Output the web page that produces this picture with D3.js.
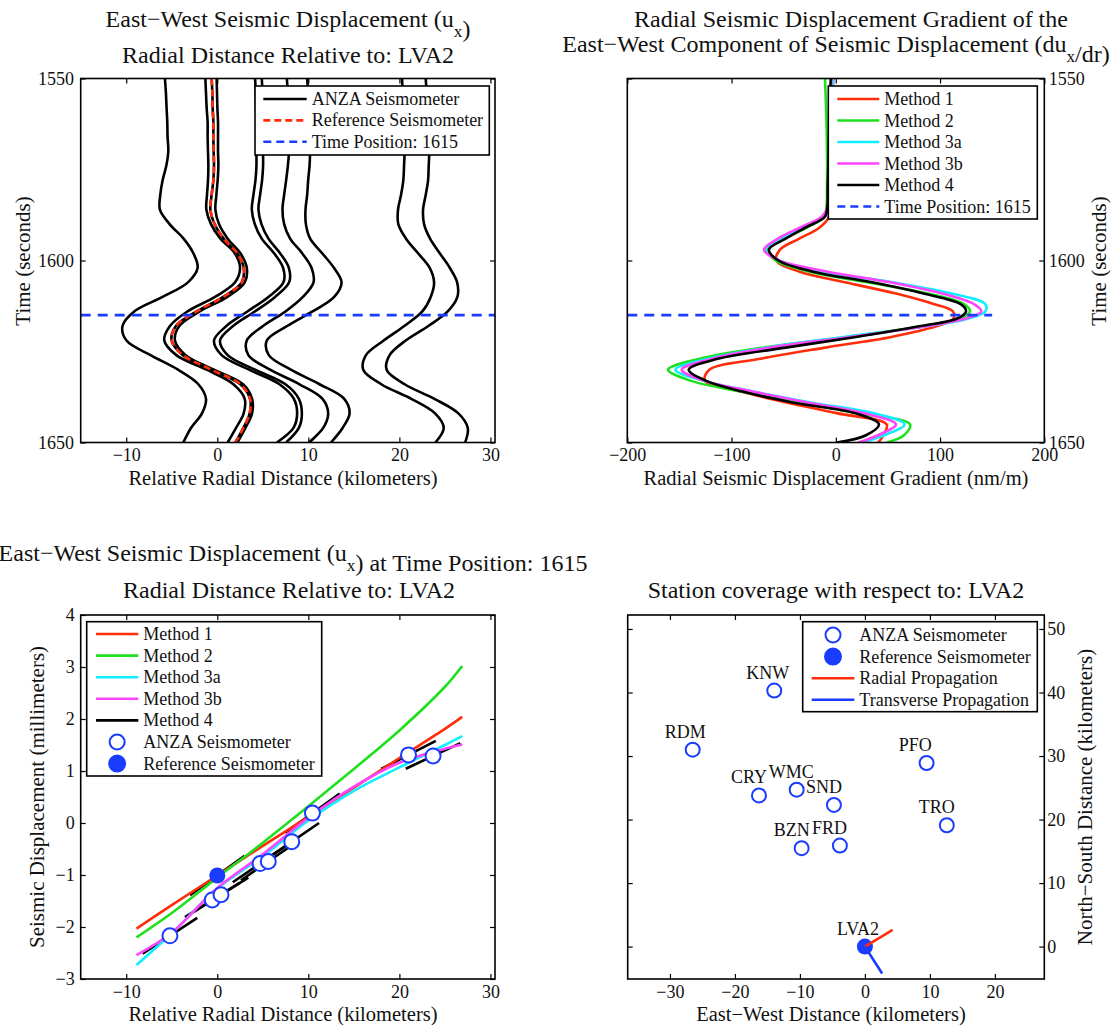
<!DOCTYPE html>
<html lang="en">
<head>
<meta charset="UTF-8">
<title>Seismic Displacement relative to LVA2</title>
<script src="https://cdn.jsdelivr.net/npm/d3@7"></script>
<style>
  body { margin: 0; background: #fff; }
  text { font-family: "Liberation Serif", "Times New Roman", serif; fill: #111; }
  .frame { fill: none; stroke: #000; stroke-width: 1.6px; }
  .trace { fill: none; stroke: #000; stroke-width: 2.6px; }
  .curve { fill: none; stroke-width: 2.6px; }
  .legend-box { fill: #fff; stroke: #000; stroke-width: 1.6px; }
</style>
</head>
<body>
<div id="chart"></div>
<script>
// ---------- data ----------
// top left: seismograms plotted at radial distance (km) vs time (s)
const traceTimes = [1550, 1554, 1558, 1562, 1566, 1570, 1574, 1578, 1582, 1586, 1590, 1594, 1598,
                    1602, 1606, 1610, 1614, 1618, 1622, 1626, 1630, 1634, 1638, 1642, 1646, 1650];
const trace1 = [-5.75, -5.64, -5.57, -5.49, -5.46, -5.38, -5.6, -6.01, -6.26, -6.3, -5.24, -3.7, -2.63, -2.16, -3.22, -6.01, -9.12, -10.41, -9.97, -7.33, -4.32, -2.08, -1.24, -1.68, -2.89, -3.73];
const trace2 = [-1.31, -1.24, -1.17, -1.06, -1.06, -1.02, -0.98, -1.02, -1.13, -1.2, -0.69, 0.34, 1.92, 2.5, 1.95, -0.25, -3.29, -5.2, -5.82, -4.5, -1.17, 1.77, 3.01, 2.9, 2.06, 1.14];
const trace3 = [-0.07, -0.03, 0.01, 0.08, 0.08, 0.08, 0.12, 0.04, -0.1, -0.21, 0.19, 1.14, 2.54, 3.24, 3.02, 1.11, -1.94, -4.17, -4.65, -3.48, -0.36, 2.83, 3.82, 3.82, 3.09, 2.21];
const trace4 = [4.15, 4.23, 4.26, 4.34, 4.34, 4.3, 4.3, 4.19, 3.97, 3.79, 4.12, 4.88, 6.24, 7.23, 7.27, 5.62, 3.31, 1.0, -0.36, 0.48, 3.49, 6.83, 8.41, 8.77, 8.37, 6.54];
const trace5 = [4.89, 4.96, 5.0, 5.07, 5.07, 5.03, 5.03, 4.92, 4.7, 4.52, 4.85, 5.62, 6.9, 7.86, 7.89, 6.35, 4.12, 1.73, 0.3, 1.14, 4.15, 7.49, 8.96, 9.29, 8.96, 7.56];
const trace6 = [7.64, 7.75, 7.82, 7.89, 7.97, 7.89, 7.75, 7.56, 7.34, 7.16, 7.34, 8.0, 9.32, 10.35, 10.57, 9.4, 7.49, 5.03, 3.24, 3.42, 5.8, 9.03, 11.56, 12.18, 11.63, 10.06];
const trace7 = [9.87, 9.98, 10.09, 10.2, 10.24, 10.2, 10.13, 9.98, 9.87, 9.69, 9.73, 10.2, 11.52, 12.81, 13.65, 12.84, 10.46, 7.67, 5.44, 5.66, 8.08, 11.23, 13.94, 14.53, 13.76, 12.48];
const trace8 = [20.29, 20.36, 20.47, 20.54, 20.62, 20.58, 20.51, 20.43, 20.18, 19.85, 19.88, 20.73, 22.05, 23.33, 23.81, 23.44, 22.52, 20.54, 18.27, 16.33, 16.03, 18.01, 21.31, 23.92, 24.87, 23.95];
const trace9 = [22.89, 23.0, 23.11, 23.22, 23.29, 23.29, 23.22, 23.15, 22.89, 22.6, 22.71, 23.37, 24.43, 25.53, 26.34, 26.37, 25.31, 23.18, 20.69, 18.93, 18.6, 20.58, 23.84, 26.48, 27.51, 27.22];
const refTrace = [-0.62, -0.54, -0.51, -0.43, -0.43, -0.4, -0.36, -0.43, -0.62, -0.76, -0.29, 0.7, 2.17, 2.9, 2.68, 0.67, -2.27, -4.54, -5.02, -3.77, -0.65, 2.54, 3.6, 3.56, 2.87, 1.99];
const anzaTraces = [trace1, trace2, trace3, trace4, trace5, trace6, trace7, trace8, trace9];
const timePosition = 1615;

// top right: radial gradient (nm/m) vs time for each method
const gradTimes = [1550, 1560, 1570, 1580, 1585, 1588, 1591, 1594, 1597, 1600, 1603, 1606, 1609, 1612,
                   1614, 1616, 1618, 1621, 1624, 1627, 1630, 1633, 1636, 1639, 1642, 1645, 1648, 1650];
const gradMethod1 = [-2.4, -3.6, -4.9, -5.9, -6.2, -6.5, -15.8, -35.0, -53.5, -57.0, -35.3, 8.8, 56.8, 94.5, 112.4, 112.7, 97.0, 53.2, -11.6, -72.4, -121.3, -125.5, -91.0, -47.2, 1.8, 48.8, 45.6, 40.8];
const gradMethod2 = [-10.4, -9.1, -8.4, -8.4, -8.8, -11.0, -28.3, -49.4, -65.3, -57.7, -26.0, 30.2, 87.1, 123.0, 128.7, 118.2, 84.6, 10.4, -71.4, -130.5, -160.9, -139.5, -90.9, -35.3, 21.6, 71.2, 65.4, 48.7];
const gradMethod3a = [-2.4, -4.3, -5.6, -6.5, -7.2, -11.0, -32.1, -52.3, -67.6, -54.2, -13.9, 54.2, 110.2, 143.4, 143.4, 126.5, 89.4, 7.9, -67.3, -122.6, -153.9, -127.3, -79.1, -24.1, 36.9, 66.0, 46.2, 24.8];
const gradMethod3b = [-4.0, -5.2, -5.9, -6.8, -7.5, -13.6, -34.7, -55.5, -68.9, -54.2, -8.8, 52.6, 101.5, 132.6, 139.6, 123.6, 87.8, 13.6, -64.1, -118.7, -147.8, -126.4, -80.0, -27.6, 27.7, 57.7, 40.5, 21.6];
const gradMethod4 = [-4.9, -5.9, -6.8, -7.8, -8.1, -10.4, -29.5, -48.1, -64.1, -55.1, -22.8, 35.0, 83.0, 119.8, 124.9, 115.9, 81.4, 19.4, -49.7, -113.2, -141.1, -124.8, -89.6, -41.4, 19.4, 41.4, 29.0, 0.8];
const gradTimeLine = [-200, 150];

// bottom left: displacement (mm) at time position vs radial distance (km)
const methodKm = [-8.87, -5, 0, 5, 10, 15, 20, 25, 26.9];
const dispMethod1 = [-2.03, -1.58, -1.01, -0.44, 0.12, 0.68, 1.25, 1.81, 2.04];
const dispMethod2 = [-2.2, -1.73, -1.05, -0.38, 0.32, 1.04, 1.78, 2.62, 3.02];
const dispMethod3a = [-2.73, -2.12, -1.26, -0.64, 0.05, 0.62, 1.07, 1.5, 1.67];
const dispMethod3b = [-2.54, -2.11, -1.25, -0.6, 0.1, 0.7, 1.16, 1.43, 1.51];
const anzaKm = [-5.2, -0.55, 0.41, 4.7, 5.6, 8.18, 10.45, 21.0, 23.7];
const anzaDisp = [-2.17, -1.48, -1.38, -0.78, -0.74, -0.36, 0.19, 1.31, 1.29];
const anzaGrad = [0.115, 0.11, 0.11, 0.12, 0.12, 0.12, 0.126, 0.09, 0.082]; // method 4 local slope, mm/km
const refKm = 0, refDisp = -1.01, refGrad = 0.126;
const tangentHalf = 3;

// bottom right: station map (km east, km north of LVA2)
const stationNames = ["KNW", "RDM", "CRY", "WMC", "SND", "PFO", "TRO", "BZN", "FRD"];
const stationEW = [-13.95, -26.5, -16.3, -10.5, -4.77, 9.49, 12.6, -9.74, -3.85];
const stationNS = [40.3, 31.0, 23.8, 24.7, 22.3, 28.9, 19.1, 15.5, 15.9];
const refName = "LVA2", refEW = 0, refNS = 0;
const radialEnd = [4.26, 2.63];
const transverseEnd = [2.65, -4.24];
const labelShift = [-4.3, 1.9];

// ---------- styling ----------
const RED = "#ff2d0a", GREEN = "#1ee01e", CYAN = "#12eeff", MAGENTA = "#ff44ff", BLUE = "#1a3cff";
const FONT = "'Liberation Serif', 'Times New Roman', serif";

const svg = d3.select("#chart").append("svg").attr("width", 1117).attr("height", 1025);

const xTop = d3.scaleLinear().domain([-15, 30.5]).range([80.7, 495]);
const yTime = d3.scaleLinear().domain([1550, 1650]).range([78.5, 442.5]);
const xGrad = d3.scaleLinear().domain([-200, 200]).range([627.3, 1044.3]);
const xBot = d3.scaleLinear().domain([-15, 30.5]).range([80.7, 495]);
const yDisp = d3.scaleLinear().domain([-3, 4]).range([979, 615]);
const xEW = d3.scaleLinear().domain([-36.5, 27.6]).range([627.7, 1044.3]);
const yNS = d3.scaleLinear().domain([-5.1, 52.2]).range([979, 615]);

function clipFor(id, x, y) {
  const [l, r] = d3.extent(x.range()), [t, b] = d3.extent(y.range());
  svg.append("clipPath").attr("id", id).append("rect")
    .attr("x", l).attr("y", t).attr("width", r - l).attr("height", b - t);
  return svg.append("g").attr("clip-path", `url(#${id})`);
}

function drawAxes(x, y, xTicks, yTicks, yRight, padY) {
  const [l, r] = d3.extent(x.range()), [t, b] = d3.extent(y.range());
  const g = svg.append("g");
  const fmt = d3.format("d");
  g.append("g").attr("transform", `translate(0,${b})`)
    .call(d3.axisBottom(x).tickValues(xTicks).tickSize(-5).tickPadding(6).tickFormat(fmt));
  g.append("g").attr("transform", `translate(0,${t})`)
    .call(d3.axisTop(x).tickValues(xTicks).tickSize(-5).tickFormat(""));
  g.append("g").attr("transform", `translate(${l},0)`)
    .call(d3.axisLeft(y).tickValues(yTicks).tickSize(-5).tickPadding(padY).tickFormat(yRight ? "" : fmt));
  g.append("g").attr("transform", `translate(${r},0)`)
    .call(d3.axisRight(y).tickValues(yTicks).tickSize(-5).tickPadding(padY).tickFormat(yRight ? fmt : ""));
  g.selectAll(".domain").remove();
  g.selectAll("g").attr("font-family", FONT).attr("font-size", 18);
  g.selectAll(".tick line").attr("stroke-width", 1.2);
  g.append("rect").attr("class", "frame")
    .attr("x", l).attr("y", t).attr("width", r - l).attr("height", b - t);
}

function label(x, y, txt, size, rotate) {
  const t = svg.append("text").attr("text-anchor", "middle").attr("font-size", size).text(txt);
  if (rotate) t.attr("transform", `translate(${x},${y}) rotate(-90)`);
  else t.attr("x", x).attr("y", y);
  return t;
}

function titleLine(x, y, parts, size) {
  const t = svg.append("text").attr("x", x).attr("y", y)
    .attr("text-anchor", "middle").attr("font-size", size);
  parts.forEach(p => {
    if (p.sub) {
      t.append("tspan").attr("dy", 10).attr("font-size", size * 0.72).text(p.text);
      t.append("tspan").attr("dy", -10).text("");
    } else {
      t.append("tspan").text(p.text);
    }
  });
}

function legend(box, rows, items) {
  const g = svg.append("g");
  g.append("rect").attr("class", "legend-box")
    .attr("x", box.x).attr("y", box.y).attr("width", box.w).attr("height", box.h);
  items.forEach((it, i) => {
    const cy = box.y + rows.first + i * rows.step;
    if (it.kind === "line") {
      g.append("line").attr("x1", box.x + rows.s0).attr("x2", box.x + rows.s1)
        .attr("y1", cy).attr("y2", cy).attr("stroke", it.color).attr("stroke-width", 2.6)
        .attr("stroke-dasharray", it.dash || null);
    } else {
      g.append("circle").attr("cx", box.x + (rows.s0 + rows.s1) / 2).attr("cy", cy)
        .attr("r", it.kind === "dot" ? 8 : 7.5)
        .attr("fill", it.kind === "dot" ? BLUE : "#fff")
        .attr("stroke", BLUE).attr("stroke-width", 2);
    }
    g.append("text").attr("x", box.x + rows.tx).attr("y", cy + 6)
      .attr("font-size", 18).text(it.label);
  });
}

const curve = d3.curveCatmullRom.alpha(0.5);

// ---------- panel 1: seismograms ----------
{
  const g = clipFor("clip1", xTop, yTime);
  const line = d3.line().x(d => xTop(d[1])).y(d => yTime(d[0])).curve(curve);
  anzaTraces.concat([refTrace]).forEach(tr => {
    g.append("path").attr("class", "trace").attr("d", line(d3.zip(traceTimes, tr)));
  });
  g.append("path").attr("fill", "none").attr("stroke", RED).attr("stroke-width", 2.6)
    .attr("stroke-dasharray", "7,4").attr("d", line(d3.zip(traceTimes, refTrace)));
  g.append("line").attr("x1", xTop(-15)).attr("x2", xTop(30.5))
    .attr("y1", yTime(timePosition)).attr("y2", yTime(timePosition))
    .attr("stroke", BLUE).attr("stroke-width", 2.6).attr("stroke-dasharray", "10,7");
  drawAxes(xTop, yTime, [-10, 0, 10, 20, 30], [1550, 1600, 1650], false, 6.7);
  legend({x: 255, y: 86, w: 234.3, h: 69}, {first: 13, step: 21.4, s0: 8.3, s1: 51.7, tx: 56.7}, [
    {kind: "line", color: "#000", label: "ANZA Seismometer"},
    {kind: "line", color: RED, dash: "7,4", label: "Reference Seismometer"},
    {kind: "line", color: BLUE, dash: "8,5", label: "Time Position: " + timePosition}
  ]);
  titleLine(288, 27, [{text: "East\u2212West Seismic Displacement (u"}, {text: "x", sub: true}, {text: ")"}], 24);
  titleLine(288, 63, [{text: "Radial Distance Relative to: " + refName}], 24);
  label(283, 485, "Relative Radial Distance (kilometers)", 20.5);
  label(30, 261, "Time (seconds)", 21, true);
}

// ---------- panel 2: gradients ----------
{
  const g = clipFor("clip2", xGrad, yTime);
  const line = d3.line().x(d => xGrad(d[1])).y(d => yTime(d[0])).curve(curve);
  [[gradMethod1, RED], [gradMethod2, GREEN], [gradMethod3a, CYAN], [gradMethod3b, MAGENTA], [gradMethod4, "#000"]]
    .forEach(([vals, col]) => {
      g.append("path").attr("class", "curve").attr("stroke", col).attr("d", line(d3.zip(gradTimes, vals)));
    });
  g.append("line").attr("x1", xGrad(gradTimeLine[0])).attr("x2", xGrad(gradTimeLine[1]))
    .attr("y1", yTime(timePosition)).attr("y2", yTime(timePosition))
    .attr("stroke", BLUE).attr("stroke-width", 2.6).attr("stroke-dasharray", "10,7");
  drawAxes(xGrad, yTime, [-200, -100, 0, 100, 200], [1550, 1600, 1650], true, 4.5);
  legend({x: 828.3, y: 86, w: 209, h: 133}, {first: 13, step: 21.5, s0: 9, s1: 51, tx: 56}, [
    {kind: "line", color: RED, label: "Method 1"},
    {kind: "line", color: GREEN, label: "Method 2"},
    {kind: "line", color: CYAN, label: "Method 3a"},
    {kind: "line", color: MAGENTA, label: "Method 3b"},
    {kind: "line", color: "#000", label: "Method 4"},
    {kind: "line", color: BLUE, dash: "8,5", label: "Time Position: " + timePosition}
  ]);
  titleLine(851, 27, [{text: "Radial Seismic Displacement Gradient of the"}], 24);
  titleLine(836, 52, [{text: "East\u2212West Component of Seismic Displacement (du"}, {text: "x", sub: true}, {text: "/dr)"}], 24);
  label(836, 485, "Radial Seismic Displacement Gradient (nm/m)", 20.5);
  label(1106, 261, "Time (seconds)", 21, true);
}

// ---------- panel 3: displacement vs distance ----------
{
  const g = clipFor("clip3", xBot, yDisp);
  const line = d3.line().x(d => xBot(d[0])).y(d => yDisp(d[1])).curve(curve);
  const seg = d3.line().x(d => xBot(d[0])).y(d => yDisp(d[1]));
  anzaKm.concat([refKm]).forEach((r, i) => {
    const u = i < anzaKm.length ? anzaDisp[i] : refDisp;
    const s = i < anzaKm.length ? anzaGrad[i] : refGrad;
    g.append("path").attr("class", "curve").attr("stroke", "#000")
      .attr("d", seg([[r - tangentHalf, u - s * tangentHalf], [r + tangentHalf, u + s * tangentHalf]]));
  });
  [[dispMethod1, RED], [dispMethod2, GREEN], [dispMethod3a, CYAN], [dispMethod3b, MAGENTA]]
    .forEach(([vals, col]) => {
      g.append("path").attr("class", "curve").attr("stroke", col).attr("d", line(d3.zip(methodKm, vals)));
    });
  g.selectAll("circle.anza").data(d3.zip(anzaKm, anzaDisp)).join("circle")
    .attr("cx", d => xBot(d[0])).attr("cy", d => yDisp(d[1])).attr("r", 7.5)
    .attr("fill", "#fff").attr("stroke", BLUE).attr("stroke-width", 2);
  g.append("circle").attr("cx", xBot(refKm)).attr("cy", yDisp(refDisp)).attr("r", 8).attr("fill", BLUE);
  drawAxes(xBot, yDisp, [-10, 0, 10, 20, 30], d3.range(-3, 5), false, 6);
  legend({x: 86.7, y: 621.7, w: 235, h: 154.3}, {first: 12.3, step: 21.6, s0: 9.3, s1: 51.6, tx: 56.6}, [
    {kind: "line", color: RED, label: "Method 1"},
    {kind: "line", color: GREEN, label: "Method 2"},
    {kind: "line", color: CYAN, label: "Method 3a"},
    {kind: "line", color: MAGENTA, label: "Method 3b"},
    {kind: "line", color: "#000", label: "Method 4"},
    {kind: "circle", label: "ANZA Seismometer"},
    {kind: "dot", label: "Reference Seismometer"}
  ]);
  titleLine(293, 561, [{text: "East\u2212West Seismic Displacement (u"}, {text: "x", sub: true}, {text: ") at Time Position: " + timePosition}], 24);
  titleLine(289, 598, [{text: "Radial Distance Relative to: " + refName}], 24);
  label(283, 1020.5, "Relative Radial Distance (kilometers)", 20.5);
  label(44, 797, "Seismic Displacement (millimeters)", 21, true);
}

// ---------- panel 4: station map ----------
{
  const g = clipFor("clip4", xEW, yNS);
  g.selectAll("circle.st").data(d3.zip(stationEW, stationNS)).join("circle")
    .attr("cx", d => xEW(d[0])).attr("cy", d => yNS(d[1])).attr("r", 7)
    .attr("fill", "#fff").attr("stroke", BLUE).attr("stroke-width", 2);
  g.append("circle").attr("cx", xEW(refEW)).attr("cy", yNS(refNS)).attr("r", 8).attr("fill", BLUE);
  g.append("line").attr("x1", xEW(refEW)).attr("y1", yNS(refNS))
    .attr("x2", xEW(radialEnd[0])).attr("y2", yNS(radialEnd[1])).attr("stroke", RED).attr("stroke-width", 2.6);
  g.append("line").attr("x1", xEW(refEW)).attr("y1", yNS(refNS))
    .attr("x2", xEW(transverseEnd[0])).attr("y2", yNS(transverseEnd[1])).attr("stroke", BLUE).attr("stroke-width", 2.6);
  stationNames.concat([refName]).forEach((n, i) => {
    const ex = i < stationNames.length ? stationEW[i] : refEW;
    const ny = i < stationNames.length ? stationNS[i] : refNS;
    g.append("text").attr("x", xEW(ex + labelShift[0])).attr("y", yNS(ny + labelShift[1]))
      .attr("font-size", 18).text(n);
  });
  drawAxes(xEW, yNS, [-30, -20, -10, 0, 10, 20], [0, 10, 20, 30, 40, 50], true, 3);
  legend({x: 802.7, y: 621.7, w: 234.6, h: 90}, {first: 13.3, step: 21.6, s0: 9, s1: 51.6, tx: 56.6}, [
    {kind: "circle", label: "ANZA Seismometer"},
    {kind: "dot", label: "Reference Seismometer"},
    {kind: "line", color: RED, label: "Radial Propagation"},
    {kind: "line", color: BLUE, label: "Transverse Propagation"}
  ]);
  titleLine(836, 598, [{text: "Station coverage with respect to: " + refName}], 24);
  label(831, 1020.5, "East\u2212West Distance (kilometers)", 20.5);
  label(1092, 797, "North\u2212South Distance (kilometers)", 21, true);
}
</script>
</body>
</html>
